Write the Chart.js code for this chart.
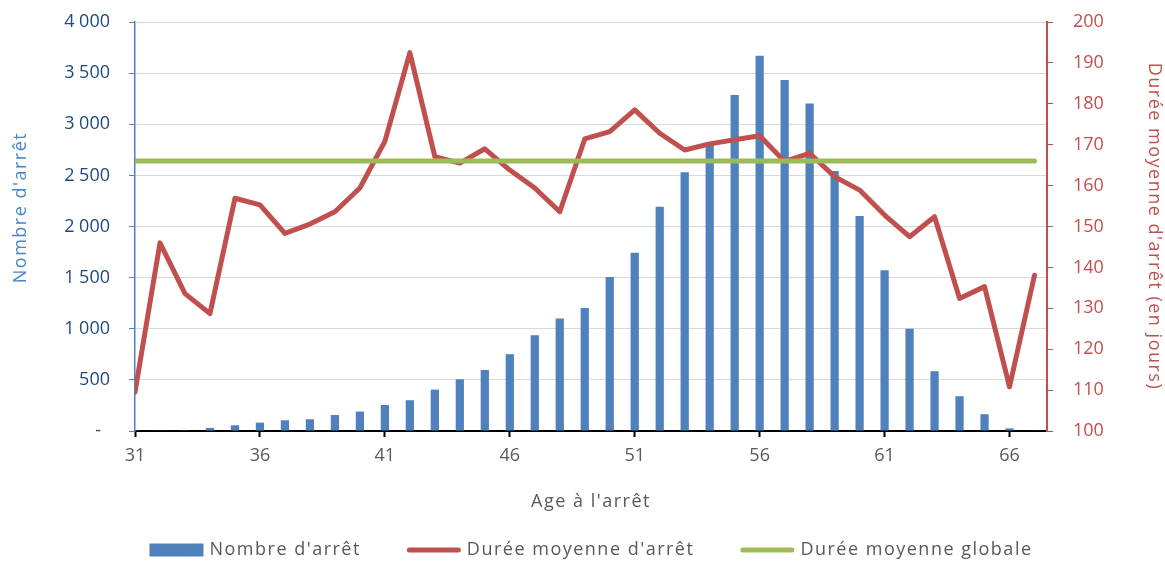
<!DOCTYPE html>
<html lang="fr">
<head>
<meta charset="utf-8">
<title>Arrêts par âge</title>
<script src="https://cdn.jsdelivr.net/npm/chart.js@4.4.1/dist/chart.umd.min.js"></script>
<style>
  html, body { margin: 0; padding: 0; background: #ffffff; }
  #wrap { width: 1165px; height: 563px; }
</style>
</head>
<body>
<div id="wrap"><canvas id="chart" width="1165" height="563"></canvas></div>
<script>
// Age at the start of the stoppage
const ages = [31, 32, 33, 34, 35, 36, 37, 38, 39, 40, 41, 42, 43, 44, 45, 46, 47, 48, 49,
              50, 51, 52, 53, 54, 55, 56, 57, 58, 59, 60, 61, 62, 63, 64, 65, 66, 67];

// Number of stoppages per age
const stopCounts = [2, 4, 7, 30, 56, 82, 105, 115, 156, 190, 255, 301, 405, 506, 597, 751, 937, 1101, 1202,
                    1505, 1743, 2194, 2531, 2820, 3285, 3670, 3432, 3203, 2544, 2103, 1571, 999, 585, 340, 164, 26, 4];

// Mean stoppage duration per age, in days
const meanDuration = [109.5, 146.0, 133.6, 128.7, 156.9, 155.3, 148.3, 150.6, 153.6, 159.4, 170.8, 192.5, 167.1,
                      165.5, 169.0, 163.8, 159.4, 153.6, 171.4, 173.2, 178.5, 172.8, 168.7, 170.2, 171.2, 172.2,
                      165.9, 167.9, 162.2, 158.9, 152.8, 147.5, 152.4, 132.4, 135.3, 110.8, 138.1];

// Overall mean duration, in days
const overallMean = 166;

// Axis ticks
const ageTicks = [31, 36, 41, 46, 51, 56, 61, 66];
const countTicks = [0, 500, 1000, 1500, 2000, 2500, 3000, 3500, 4000];
const durationTicks = [100, 110, 120, 130, 140, 150, 160, 170, 180, 190, 200];

const FONT = "'Open Sans', 'Noto Sans', sans-serif";
const TEXT_SPACING = '1.5px';
Chart.defaults.font.family = FONT;
Chart.defaults.font.size = 18;

const BLUE = '#4f81bd';
const RED = '#c0504d';
const GREEN = '#9bbb59';
const GREY_TEXT = '#595959';

function formatCount(v) {
  if (v === 0) return '-\u2002';
  return String(v).replace(/\B(?=(\d{3})+(?!\d))/g, '\u00a0');
}

// Fixed-width vertical axes; the plot keeps its own top margin
function fixVerticalAxis(width) {
  return scale => {
    scale.width = width;
    scale.paddingTop = 0;
    scale.paddingBottom = 0;
  };
}

// Axis titles are drawn with a little letter spacing; the count title sits a bit above centre
const titleStyle = {
  id: 'titleStyle',
  afterLayout(chart) {
    Object.values(chart.scales).forEach(scale => {
      if (scale._titleWrapped) return;
      const drawTitle = scale.drawTitle;
      const shiftY = scale.id === 'y' ? -19 : 0;
      scale.drawTitle = function () {
        const ctx = this.ctx;
        ctx.save();
        ctx.letterSpacing = TEXT_SPACING;
        ctx.translate(0, shiftY);
        drawTitle.apply(this, arguments);
        ctx.restore();
      };
      scale._titleWrapped = true;
    });
  }
};

// Legend drawn under the axis title: marker then label, items centred on the plot
const bottomLegend = {
  id: 'bottomLegend',
  afterDraw(chart) {
    const { ctx, chartArea } = chart;
    const markW = 54, gapText = 6, gapItem = 46;
    const y = chart.height - 13;
    ctx.save();
    ctx.font = '18px ' + FONT;
    ctx.letterSpacing = TEXT_SPACING;
    ctx.textBaseline = 'middle';
    ctx.textAlign = 'left';
    const items = chart.data.datasets.map(ds => ({ ds, w: ctx.measureText(ds.label).width }));
    const total = items.reduce((s, it) => s + markW + gapText + it.w, 0) + gapItem * (items.length - 1);
    let x = (chartArea.left + chartArea.right) / 2 - total / 2;
    items.forEach(({ ds, w }) => {
      if (ds.type === 'bar') {
        ctx.fillStyle = ds.backgroundColor;
        ctx.fillRect(x, y - 6.5, markW, 13);
      } else {
        ctx.strokeStyle = ds.borderColor;
        ctx.lineWidth = ds.borderWidth;
        ctx.lineCap = 'round';
        ctx.beginPath();
        ctx.moveTo(x + ds.borderWidth / 2, y);
        ctx.lineTo(x + markW - ds.borderWidth / 2, y);
        ctx.stroke();
      }
      ctx.fillStyle = GREY_TEXT;
      ctx.fillText(ds.label, x + markW + gapText, y);
      x += markW + gapText + w + gapItem;
    });
    ctx.restore();
  }
};

new Chart(document.getElementById('chart'), {
  data: {
    datasets: [
      {
        type: 'bar',
        label: "Nombre d'arrêt",
        data: ages.map((a, i) => ({ x: a, y: stopCounts[i] })),
        backgroundColor: BLUE,
        yAxisID: 'y',
        order: 3,
        barPercentage: 0.33,
        categoryPercentage: 1
      },
      {
        type: 'line',
        label: "Durée moyenne d'arrêt",
        data: ages.map((a, i) => ({ x: a, y: meanDuration[i] })),
        borderColor: RED,
        backgroundColor: RED,
        borderWidth: 5,
        borderJoinStyle: 'round',
        borderCapStyle: 'round',
        pointRadius: 0,
        tension: 0,
        yAxisID: 'y1',
        order: 2
      },
      {
        type: 'line',
        label: 'Durée moyenne globale',
        data: ages.map(a => ({ x: a, y: overallMean })),
        borderColor: GREEN,
        backgroundColor: GREEN,
        borderWidth: 5,
        borderCapStyle: 'round',
        pointRadius: 0,
        yAxisID: 'y1',
        order: 1
      }
    ]
  },
  options: {
    responsive: false,
    animation: false,
    layout: { padding: { top: 22, right: 0, bottom: 40, left: 0 } },
    plugins: { legend: { display: false }, tooltip: { enabled: false } },
    scales: {
      x: {
        type: 'linear',
        min: 31,
        max: 67.5,
        offset: false,
        afterBuildTicks: s => { s.ticks = ageTicks.map(v => ({ value: v })); },
        afterFit: s => { s.height = 92; },
        grid: { offset: false, drawOnChartArea: false, drawTicks: true, tickLength: 6, tickColor: '#000000', tickWidth: 2 },
        border: { color: '#000000', width: 2 },
        ticks: { color: GREY_TEXT, padding: 8, maxRotation: 0, autoSkip: false, callback: v => String(v) },
        title: { display: true, text: "Age à l'arrêt", color: GREY_TEXT, padding: { top: 0, bottom: 10 } }
      },
      y: {
        position: 'left',
        min: 0,
        max: 4000,
        afterBuildTicks: s => { s.ticks = countTicks.map(v => ({ value: v })); },
        afterFit: fixVerticalAxis(135),
        grid: { color: '#d9d9d9', lineWidth: 1, tickColor: BLUE, tickLength: 6 },
        border: { color: BLUE, width: 1.5 },
        ticks: { color: '#1f497d', padding: 19, callback: v => formatCount(v) },
        title: { display: true, text: "Nombre d'arrêt", color: '#4a86c8', padding: { top: 10, bottom: 0 } }
      },
      y1: {
        position: 'right',
        min: 100,
        max: 200,
        afterBuildTicks: s => { s.ticks = durationTicks.map(v => ({ value: v })); },
        afterFit: fixVerticalAxis(118),
        grid: { drawOnChartArea: false, tickColor: RED, tickLength: 6 },
        border: { color: RED, width: 2 },
        ticks: { color: RED, padding: 20 },
        title: { display: true, text: "Durée moyenne d'arrêt (en jours)", color: RED, padding: { top: 0, bottom: 0 } }
      }
    }
  },
  plugins: [titleStyle, bottomLegend]
});
</script>
</body>
</html>
